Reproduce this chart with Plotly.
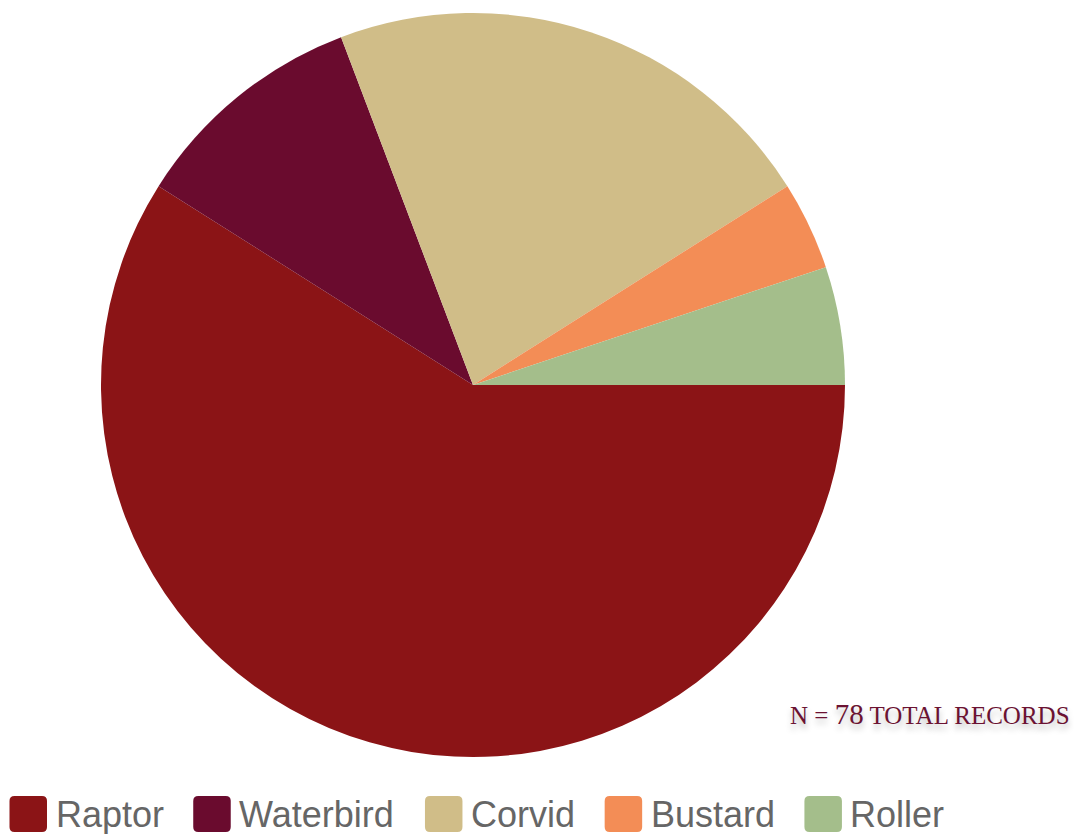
import plotly.graph_objects as go

# Bird-strike records by group
categories = ["Raptor", "Waterbird", "Corvid", "Bustard", "Roller"]
counts = [46, 8, 17, 3, 4]
colors = ["#8B1416", "#6A0B2E", "#D0BD88", "#F38D56", "#A4BE8B"]
total_records = sum(counts)

W, H = 1074, 834
CX, CY, R = 473, 385, 372          # pie centre and radius in px


def px_x(x):
    return x / W


def px_y(y):
    return 1 - y / H


fig = go.Figure(
    go.Pie(
        labels=categories,
        values=counts,
        marker=dict(colors=colors, line=dict(width=0)),
        sort=False,
        direction="clockwise",
        rotation=90,
        textinfo="none",
        hoverinfo="label+value+percent",
        showlegend=False,
        domain=dict(
            x=[px_x(CX - R), px_x(CX + R)],
            y=[px_y(CY + R), px_y(CY - R)],
        ),
    )
)

# Legend row: rounded swatches followed by labels
ARIAL = {"R": 722, "a": 556, "p": 556, "t": 278, "o": 556, "r": 333, "W": 944,
         "e": 556, "b": 556, "i": 222, "d": 556, "C": 722, "v": 500, "B": 667,
         "u": 556, "s": 500, "l": 222}
LEG_FONT = 36
BOX_W, BOX_H, RAD = 37.5, 36, 5
LEG_Y = 814
shapes = []
annotations = []
x = 9.5
for name, col in zip(categories, colors):
    x0, x1 = x, x + BOX_W
    y0, y1 = LEG_Y - BOX_H / 2, LEG_Y + BOX_H / 2
    pts = [
        ("M", x0 + RAD, y0), ("L", x1 - RAD, y0), ("Q", x1, y0, x1, y0 + RAD),
        ("L", x1, y1 - RAD), ("Q", x1, y1, x1 - RAD, y1), ("L", x0 + RAD, y1),
        ("Q", x0, y1, x0, y1 - RAD), ("L", x0, y0 + RAD), ("Q", x0, y0, x0 + RAD, y0),
    ]
    path = ""
    for seg in pts:
        cmd, coords = seg[0], seg[1:]
        pairs = [f"{px_x(coords[i])},{px_y(coords[i + 1])}" for i in range(0, len(coords), 2)]
        path += cmd + " ".join(pairs)
    path += "Z"
    shapes.append(dict(type="path", xref="paper", yref="paper", path=path,
                       fillcolor=col, line=dict(width=0)))
    annotations.append(dict(
        x=px_x(x + 44), y=px_y(LEG_Y), xref="paper", yref="paper",
        xanchor="left", yanchor="middle", showarrow=False, text=name,
        font=dict(family="Liberation Sans, Arial, sans-serif", size=LEG_FONT, color="#666666"),
    ))
    adv = sum(ARIAL[c] for c in name) * LEG_FONT / 1000
    x += adv + 75.7

# Total records note
annotations.append(dict(
    x=px_x(1072), y=px_y(714), xref="paper", yref="paper",
    xanchor="right", yanchor="middle", showarrow=False,
    text=(f"N = <span style='font-size:29px'>{total_records}</span> TOTAL RECORDS"),
    font=dict(family="Liberation Serif, Times New Roman, serif", size=25, color="#6B1232",
              shadow="0px 5px 6px rgba(0,0,0,0.28)"),
))

fig.update_layout(
    width=W, height=H, autosize=False,
    margin=dict(l=0, r=0, t=0, b=0),
    paper_bgcolor="white", plot_bgcolor="white",
    shapes=shapes, annotations=annotations,
)

fig.write_html("out.html")
